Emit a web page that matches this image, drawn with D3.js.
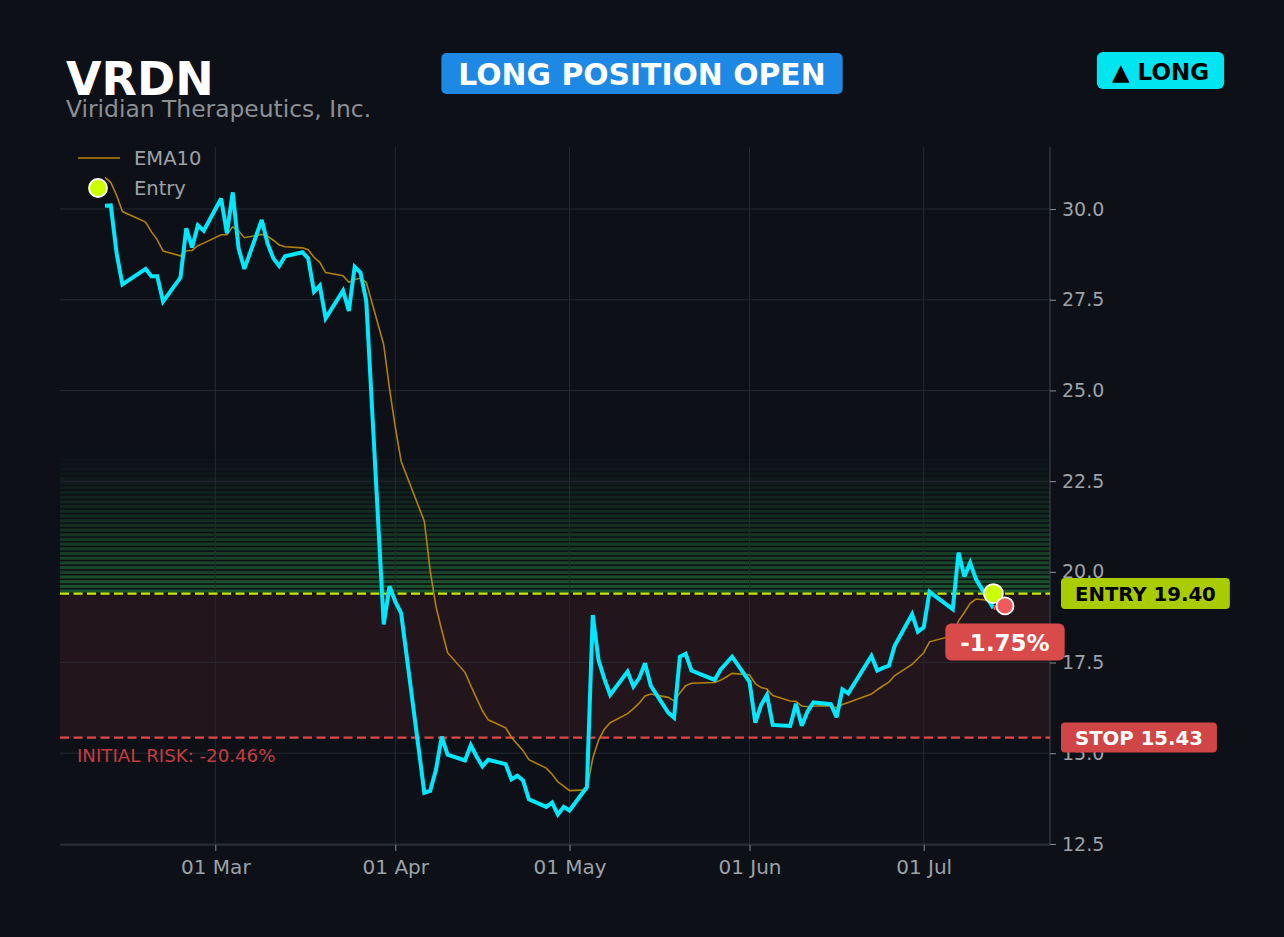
<!DOCTYPE html>
<html lang="en">
<head>
<meta charset="utf-8">
<script src="https://d3js.org/d3.v7.min.js"></script>
<style>
body { margin: 0; background: #0d1117; }
svg { display: block; font-family: "DejaVu Sans", sans-serif; }
</style>
</head>
<body>
<svg width="1284" height="937"></svg>
<script>
// trading days shown on the chart
var dates = [
 "2026-02-10","2026-02-11","2026-02-12","2026-02-13","2026-02-17","2026-02-18","2026-02-19","2026-02-20",
 "2026-02-23","2026-02-24","2026-02-25","2026-02-26","2026-02-27",
 "2026-03-02","2026-03-03","2026-03-04","2026-03-05","2026-03-06","2026-03-09","2026-03-10","2026-03-11",
 "2026-03-12","2026-03-13","2026-03-16","2026-03-17","2026-03-18","2026-03-19","2026-03-20","2026-03-23",
 "2026-03-24","2026-03-25","2026-03-26","2026-03-27","2026-03-30","2026-03-31",
 "2026-04-01","2026-04-02","2026-04-06","2026-04-07","2026-04-08","2026-04-09","2026-04-10","2026-04-13",
 "2026-04-14","2026-04-15","2026-04-16","2026-04-17","2026-04-20","2026-04-21","2026-04-22","2026-04-23",
 "2026-04-24","2026-04-27","2026-04-28","2026-04-29","2026-04-30",
 "2026-05-01","2026-05-04","2026-05-05","2026-05-06","2026-05-07","2026-05-08","2026-05-11","2026-05-12",
 "2026-05-13","2026-05-14","2026-05-15","2026-05-18","2026-05-19","2026-05-20","2026-05-21","2026-05-22",
 "2026-05-26","2026-05-27","2026-05-28","2026-05-29",
 "2026-06-01","2026-06-02","2026-06-03","2026-06-04","2026-06-05","2026-06-08","2026-06-09","2026-06-10",
 "2026-06-11","2026-06-12","2026-06-15","2026-06-16","2026-06-17","2026-06-18","2026-06-22","2026-06-23",
 "2026-06-24","2026-06-25","2026-06-26","2026-06-29","2026-06-30",
 "2026-07-01","2026-07-02","2026-07-06","2026-07-07","2026-07-08","2026-07-09","2026-07-10","2026-07-13",
 "2026-07-14","2026-07-15"
];

var closes = [
 30.09,30.10,28.78,27.92,28.35,28.15,28.15,27.45,
 28.11,29.47,28.94,29.55,29.40,
 30.29,29.33,30.46,28.92,28.35,29.70,29.05,28.64,
 28.43,28.70,28.81,28.64,27.72,27.89,26.99,27.75,
 27.19,28.41,28.25,27.46,18.55,19.60,
 19.18,18.86,13.91,13.96,14.54,15.46,14.96,14.80,
 15.22,14.91,14.64,14.82,14.70,14.28,14.38,14.25,
 13.73,13.52,13.64,13.31,13.52,
 13.42,14.07,18.81,17.57,17.05,16.61,17.25,16.84,
 17.07,17.48,16.86,16.12,15.98,17.66,17.74,17.28,
 17.02,17.30,17.48,17.66,
 16.97,15.84,16.33,16.61,15.78,15.75,16.36,15.76,
 16.15,16.40,16.35,15.99,16.76,16.65,17.68,17.28,
 17.35,17.41,17.96,18.83,18.35,
 18.47,19.45,18.97,20.53,19.87,20.25,19.80,19.00,
 19.05,19.06
];

var ema10 = [
 30.87,30.73,30.38,29.93,29.64,29.37,29.15,28.84,
 28.71,28.85,28.86,28.99,29.06,
 29.29,29.29,29.51,29.40,29.21,29.30,29.25,29.14,
 29.01,28.96,28.93,28.88,28.67,28.53,28.25,28.16,
 27.98,28.06,28.09,27.98,26.26,25.05,
 23.98,23.05,21.39,20.04,19.04,18.39,17.77,17.23,
 16.86,16.51,16.17,15.92,15.70,15.44,15.25,15.07,
 14.82,14.59,14.42,14.21,14.09,
 13.97,13.99,14.86,15.36,15.66,15.84,16.09,16.23,
 16.38,16.58,16.63,16.54,16.44,16.66,16.86,16.93,
 16.95,17.01,17.10,17.20,
 17.16,16.92,16.81,16.77,16.59,16.44,16.43,16.30,
 16.28,16.30,16.31,16.25,16.34,16.40,16.63,16.75,
 16.86,16.96,17.14,17.45,17.61,
 17.77,18.07,18.24,18.65,18.88,19.13,19.25,19.20,
 19.18,19.15
];

var entryPrice = 19.40;
var stopPrice = 15.43;
var entryDate = "2026-07-13";
var yTicks = [12.5, 15, 17.5, 20, 22.5, 25, 27.5, 30];
var xTicks = ["2026-03-01", "2026-04-01", "2026-05-01", "2026-06-01", "2026-07-01"];

var parse = d3.timeParse("%Y-%m-%d");
var rows = dates.map(function(d, i) {
  return { date: parse(d), close: closes[i], ema: ema10[i] };
});
var entryIdx = dates.indexOf(entryDate);
var last = rows[rows.length - 1];

var svg = d3.select("svg");
var pl = 60, pr = 1050, pt = 147, pb = 845;

svg.append("rect").attr("width", 1284).attr("height", 937).attr("fill", "#0d1117");

var x = d3.scaleTime()
  .domain([d3.timeHour.offset(rows[0].date, -186), d3.timeHour.offset(last.date, 186)])
  .range([pl, pr]);
var y = d3.scaleLinear().domain([12.47, 31.71]).range([pb, pt]);

// profit zone: striped green fading upward
var zones = svg.append("g");
var nb = 30, bandTop = entryPrice * 1.2;
for (var i = 0; i < nb; i++) {
  var lo = entryPrice + (bandTop - entryPrice) * i / nb;
  var hi = entryPrice + (bandTop - entryPrice) * (i + 1) / nb;
  zones.append("rect")
    .attr("x", pl).attr("width", pr - pl)
    .attr("y", y(hi) + 0.6).attr("height", y(lo) - y(hi) - 1.6)
    .attr("fill", "#33b04a")
    .attr("opacity", 0.42 * Math.pow(1 - i / nb, 1.2));
}
// risk zone
zones.append("rect")
  .attr("x", pl).attr("width", pr - pl)
  .attr("y", y(entryPrice)).attr("height", y(stopPrice) - y(entryPrice))
  .attr("fill", "#e5484d").attr("opacity", 0.1);

// grid
var grid = svg.append("g").attr("stroke", "#252930").attr("stroke-width", 1);
grid.selectAll(".gy").data(yTicks).enter().append("line")
  .attr("x1", pl).attr("x2", pr)
  .attr("y1", function(d) { return y(d); }).attr("y2", function(d) { return y(d); });
grid.selectAll(".gx").data(xTicks).enter().append("line")
  .attr("y1", pt).attr("y2", pb)
  .attr("x1", function(d) { return x(parse(d)); }).attr("x2", function(d) { return x(parse(d)); });

// spines
svg.append("line").attr("x1", pr).attr("x2", pr).attr("y1", pt).attr("y2", pb)
  .attr("stroke", "#3a3e45").attr("stroke-width", 1.2);
svg.append("line").attr("x1", pl).attr("x2", pr).attr("y1", pb).attr("y2", pb)
  .attr("stroke", "#3a3e45").attr("stroke-width", 1.2);

// axes
var ya = svg.append("g")
  .attr("transform", "translate(" + pr + ",0)")
  .call(d3.axisRight(y).tickValues(yTicks).tickFormat(d3.format(".1f")).tickSize(6).tickPadding(6));
ya.select(".domain").remove();
ya.selectAll("line").attr("stroke", "#8b8f96");
ya.selectAll("text").attr("fill", "#9da1a8").attr("font-size", 19).attr("font-family", "DejaVu Sans");

var xa = svg.append("g")
  .attr("transform", "translate(0," + pb + ")")
  .call(d3.axisBottom(x).tickValues(xTicks.map(parse)).tickFormat(d3.timeFormat("%d %b")).tickSize(6).tickPadding(9));
xa.select(".domain").remove();
xa.selectAll("line").attr("stroke", "#8b8f96");
xa.selectAll("text").attr("fill", "#9da1a8").attr("font-size", 20).attr("font-family", "DejaVu Sans");

// entry and stop lines
svg.append("line").attr("x1", pl).attr("x2", pr)
  .attr("y1", y(entryPrice)).attr("y2", y(entryPrice))
  .attr("stroke", "#c8e600").attr("stroke-width", 2.2).attr("stroke-dasharray", "9,4.5");
svg.append("line").attr("x1", pl).attr("x2", pr)
  .attr("y1", y(stopPrice)).attr("y2", y(stopPrice))
  .attr("stroke", "#e04848").attr("stroke-width", 2.2).attr("stroke-dasharray", "9,4.5");

svg.append("text").attr("x", 77).attr("y", y(stopPrice) + 24)
  .attr("fill", "#c43c3f").attr("font-size", 18.2)
  .text("INITIAL RISK: -" + ((1 - stopPrice / entryPrice) * 100).toFixed(2) + "%");

// price lines
var emaLine = d3.line().x(function(d) { return x(d.date); }).y(function(d) { return y(d.ema); });
var priceLine = d3.line().x(function(d) { return x(d.date); }).y(function(d) { return y(d.close); });

svg.append("path").datum(rows).attr("d", emaLine)
  .attr("fill", "none").attr("stroke", "#b8860b").attr("stroke-width", 1.6).attr("opacity", 0.95);
svg.append("path").datum(rows.slice(0, entryIdx + 1)).attr("d", priceLine)
  .attr("fill", "none").attr("stroke", "#00e8ff").attr("stroke-width", 4)
  .attr("stroke-linejoin", "miter").attr("stroke-miterlimit", 3);
svg.append("path").datum(rows.slice(entryIdx)).attr("d", priceLine)
  .attr("fill", "none").attr("stroke", "#f05050").attr("stroke-width", 4);

// markers
svg.append("circle").attr("cx", x(rows[entryIdx].date)).attr("cy", y(entryPrice)).attr("r", 9.5)
  .attr("fill", "#ccff00").attr("stroke", "#ffffff").attr("stroke-width", 1.8);
svg.append("circle").attr("cx", x(last.date)).attr("cy", y(last.close)).attr("r", 8.5)
  .attr("fill", "#f05a5a").attr("stroke", "#ffffff").attr("stroke-width", 1.8);

// badge helper
function badge(cx, cy, label, fill, color, size, padX, h, rx, anchor) {
  var g = svg.append("g");
  var t = g.append("text").attr("font-size", size).attr("font-weight", "bold")
    .attr("fill", color).attr("dominant-baseline", "central").text(label);
  var w = t.node().getComputedTextLength() + padX * 2;
  var x0 = anchor === "start" ? cx : cx - w / 2;
  g.insert("rect", "text").attr("x", x0).attr("y", cy - h / 2)
    .attr("width", w).attr("height", h).attr("rx", rx).attr("fill", fill);
  t.attr("x", x0 + padX).attr("y", cy + 1);
  return g;
}

var pnl = (last.close / entryPrice - 1) * 100;
badge(x(last.date), y(last.close) + 36, pnl.toFixed(2) + "%", "#d94a4a", "#ffffff", 23, 15, 37, 6);
badge(1061, y(entryPrice), "ENTRY " + entryPrice.toFixed(2), "#a8cc00", "#000000", 19.7, 14, 31, 4, "start");
badge(1061, y(stopPrice), "STOP " + stopPrice.toFixed(2), "#d04545", "#ffffff", 19.7, 14, 30, 4, "start");

// legend
svg.append("line").attr("x1", 78).attr("x2", 120).attr("y1", 158).attr("y2", 158)
  .attr("stroke", "#b8860b").attr("stroke-width", 1.6);
svg.append("text").attr("x", 134).attr("y", 165).attr("fill", "#9da1a8").attr("font-size", 19.5).text("EMA10");
svg.append("circle").attr("cx", 98).attr("cy", 188).attr("r", 9)
  .attr("fill", "#ccff00").attr("stroke", "#ffffff").attr("stroke-width", 1.8);
svg.append("text").attr("x", 134).attr("y", 195).attr("fill", "#9da1a8").attr("font-size", 19.5).text("Entry");

// header
svg.append("text").attr("x", 66).attr("y", 95).attr("fill", "#ffffff")
  .attr("font-size", 46).attr("font-weight", "bold").text("VRDN");
svg.append("text").attr("x", 66).attr("y", 117).attr("fill", "#8b8f96")
  .attr("font-size", 23.4).text("Viridian Therapeutics, Inc.");
badge(642, 73.5, "LONG POSITION OPEN", "#1e88e5", "#ffffff", 29.8, 17, 41, 5);
badge(1160.5, 70.5, "\u25B2 LONG", "#00e5f0", "#000000", 23, 15, 37, 6);
</script>
</body>
</html>
